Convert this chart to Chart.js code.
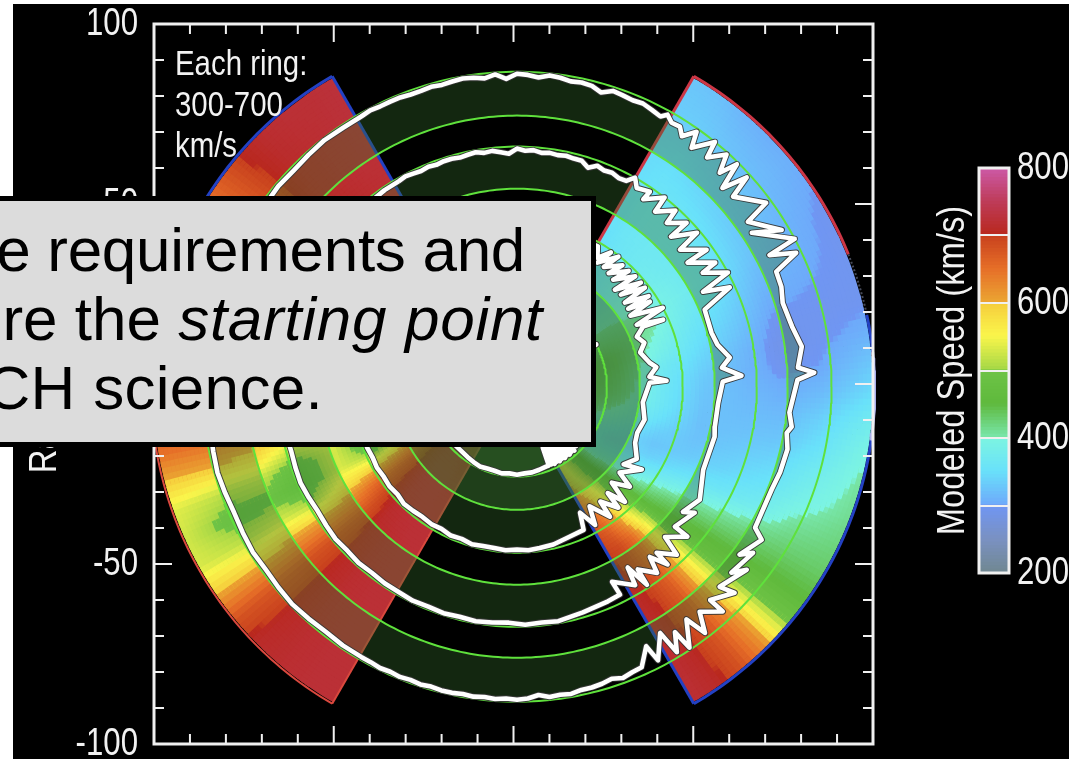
<!DOCTYPE html>
<html><head><meta charset="utf-8">
<style>
html,body{margin:0;padding:0;background:#fff;width:1069px;height:759px;overflow:hidden}
#panel{position:absolute;left:13px;top:4px;right:0;bottom:0;background:#000}
canvas{position:absolute}
.note{position:absolute;left:175px;color:#f2f2f2;font:35px "Liberation Sans",sans-serif;line-height:40px;white-space:nowrap;transform:scaleX(.84);transform-origin:0 0}
#box{position:absolute;left:-10px;top:196px;width:596px;height:241px;background:#dcdcdc;border:5px solid #000;overflow:hidden}
.ln{position:absolute;white-space:nowrap;color:#000;font:62px "Liberation Sans",Arial,sans-serif;line-height:69px}
.ln i{letter-spacing:.7px}
</style>
<script src="https://cdn.jsdelivr.net/npm/chart.js@4/dist/chart.umd.js"></script>
</head><body>
<div id="panel"></div>
<canvas id="map" width="1069" height="759" style="left:0;top:0"></canvas>
<canvas id="bar" width="169" height="480" style="left:900px;top:130px"></canvas>
<div class="note" style="top:43px">Each ring:</div>
<div class="note" style="top:84px">300-700</div>
<div class="note" style="top:125px">km/s</div>
<div id="box">
<div class="ln" style="top:14px;right:66px;letter-spacing:-.3px">e requirements and</div>
<div class="ln" style="top:83px;right:48px">re the <i>starting point</i></div>
<div class="ln" style="top:152px;right:268px;letter-spacing:.3px">CH science.</div>
</div>
<script>
// ---- axis ticks
const axisTicks = [-100,-50,50,100];
const colorbarLabels = [200,400,600,800];
const yAxisTitle = 'Radius (RS)';
const colorbarTitle = 'Modeled Speed (km/s)';

// ---- colour table: speed (km/s) and rgb
const cmapSpeed = [200,250,299,300,350,399,400,450,499,500,550,599,600,650,699,700,750,800];
const cmapRgb = [[113,135,145],[122,145,195],[112,150,243],[110,170,250],[105,225,250],[125,245,225],[120,230,170],[95,185,60],[110,195,70],[165,215,70],[250,245,75],[245,205,60],[235,165,50],[230,110,40],[200,65,30],[185,40,30],[190,60,90],[205,90,170]];

// ---- modelled speed maps (km/s): rows = radius knots, columns = longitude knots
const mapRadius = [20,30,42,53,64,75,86,100];
const rightLon = [-60,-55,-50,-45,-40,-35,-30,-25,-20,-15,-10,-5,0,5,10,15,20,25,30,35,40,45,50,55,60];
const rightSpeed = [
[560,540,500,455,410,380,370,375,390,410,425,435,440,445,445,445,440,430,415,400,380,365,350,340,330],
[620,565,520,470,420,375,350,340,350,370,390,405,415,420,425,430,430,420,410,400,385,370,360,350,340],
[680,640,580,500,450,400,360,335,325,335,350,360,362,365,370,385,395,405,400,395,385,375,365,355,345],
[700,690,650,560,460,430,385,350,330,322,320,322,325,330,340,350,360,370,378,375,370,368,365,360,350],
[710,695,660,580,470,440,400,360,340,330,322,318,315,312,315,325,335,345,355,360,362,365,365,360,350],
[715,700,670,590,480,445,415,375,355,340,325,315,305,295,290,295,305,315,325,330,335,340,345,350,345],
[720,705,675,610,500,450,425,405,385,370,350,335,315,300,295,295,300,305,310,315,320,325,330,335,335],
[720,710,680,620,500,450,430,420,410,405,395,375,345,325,305,295,295,295,295,300,305,305,310,320,325]];
const leftLon = [120,125,130,135,140,145,150,155,160,165,170,175,180,185,190,195,200,205,210,215,220,225,230,235,240];
const leftSpeed = [
[680,650,620,590,550,510,480,450,430,420,410,410,420,440,480,540,600,650,690,710,715,715,715,710,700],
[700,690,680,670,650,630,600,570,540,510,480,450,430,420,420,450,510,590,650,690,710,720,720,720,715],
[710,705,700,690,680,670,650,630,620,610,600,580,550,510,470,440,450,500,600,670,700,715,720,720,720],
[715,710,705,700,690,680,665,650,645,640,635,625,610,590,560,540,530,530,570,630,680,710,715,720,720],
[720,715,710,705,695,680,665,655,655,655,655,650,640,620,590,530,470,460,510,610,680,705,715,720,720],
[720,720,715,710,700,680,660,650,650,655,660,660,660,650,630,590,520,490,530,610,680,705,715,720,720],
[725,720,715,710,695,670,650,640,640,650,655,660,665,665,650,600,515,480,515,600,675,705,715,720,720],
[725,720,720,715,700,670,640,630,630,640,650,660,665,665,655,600,535,525,530,600,680,710,715,720,720]];

// ---- white speed traces: longitude (deg) and speed (km/s) in plot order for each ring
const ringALon = [120,118,116,114,112,110,108,106,104,102,100,98,96,94,92,90,88,86,84,82,80,78,76,74,72,70,68,66,64,62,
61,59.6,57.9,56.6,54.8,53.8,51,50.3,47.9,46.5,45.3,44,42.3,41.3,36.4,35.5,30.6,33.2,28,27.5,25.6,23.9,20.7,17.5,12.3,8,3.9,2.7,1.4,-5.4,-8.3,-9.7,-13,-18,-22,-30.6,-32,-37,-35.1,-40.9,-38.5,-44.6,-43.4,-47.8,-47.5,-50.9,-52.6,-53.9,-56.5,-57.2,-58.9,-59.8,-62.7,-63.5,
-66,-68,-70,-72,-74,-76,-78,-80,-82,-84,-86,-88,-90,-92,-94,-96,-98,-100,-102,-104,-106,-108,-110,-112,-114,-116,-118,-120,
-124,-128,-132,-136,-140,-144,-148,-152,-156,-160,-164,-168,-172,-176,-180,-184,-188,-192,-196,-200,-204,-208,-212,-216,-220,-224,-228,-232,-236,-240];
const ringASpeed = [327,318,327,327,327,336,336,327,336,327,318,327,345,318,363,318,327,345,318,327,345,336,345,381,336,345,354,345,363,381,
336,381,372,435,327,471,300,453,318,480,318,561,336,543,345,579,363,606,300,570,345,579,588,624,597,543,597,453,606,669,633,669,633,642,660,642,534,624,534,579,489,570,435,543,390,525,345,543,318,507,345,570,363,525,
372,363,345,372,354,345,345,327,336,327,354,327,318,327,318,327,318,327,318,318,327,318,327,318,327,318,327,327,
327,336,327,318,327,336,327,336,345,336,327,336,345,336,345,336,345,354,345,336,345,336,327,336,327,336,327,318,327,327];

const ringBLon = [120,118,116,114,112,110,108,106,104,102,100,98,96,94,92,90,88,86,84,82,80,78,76,74,72,70,68,66,64,62,
60.5,58.9,55.7,56,52,51.7,48,47.5,44,44.2,40.5,40,35.8,36,32,31.5,28.4,27,25,22.3,15.5,11.8,7.8,5.3,2.8,1.4,-4.6,-11.4,-14.2,-24,-31.7,-37,-35.3,-41.5,-41.3,-45.4,-46.4,-49.9,-49.7,-52,-53,-56.5,-56.7,-58.5,-59.2,-64,-63.6,-67,-73.7,-80,
-84,-88,-92,-96,-100,-104,-108,-112,-116,-120,
-124,-128,-132,-136,-140,-144,-148,-152,-156,-160,-164,-168,-172,-176,-180,-184,-188,-192,-196,-200,-204,-208,-212,-216,-220,-224,-228,-232,-236,-240];
const ringBSpeed = [327,318,327,336,327,336,327,327,336,327,318,336,327,345,363,318,336,327,345,336,345,336,345,345,390,345,363,354,372,363,
300,372,336,426,300,453,327,462,336,525,327,543,354,561,354,498,300,579,345,633,642,615,525,606,435,606,642,642,624,624,525,588,498,561,417,561,372,507,363,516,363,489,327,552,381,507,372,363,345,318,
327,318,336,327,318,327,318,327,318,327,
327,336,327,336,327,336,345,336,327,336,345,336,345,336,345,354,345,336,345,336,345,354,345,336,327,336,327,336,327,327];

const ringCLon = [120,100,80,62,
60,58,55,57,52,54,49,51,46,48,43,44.7,40,41.5,37.7,37.9,34.5,35,32.6,32,28.4,27.3,24.6,25.5,22.6,19,15.5,10.2,8,4.3,2.3,1.7,-7,-14.5,-21,-25.4,-31,-36,-33.5,-39.9,-41.5,-45.3,-46.8,-49.5,-50,-54,-54.4,-58.7,-60.5,-63.4,-65,-70.5,-77,-82,
-86,-90,-94,-98,-102,-106,-110,-114,-118,-122,-126,-130,-134,-138,-142,-146,-150,-154,-158,-162,-166,-170,-180,-190,-200,-210,-220,-230,-240];
const ringCSpeed = [330,325,335,340,
336,426,318,462,309,462,345,480,345,498,336,552,336,543,336,561,354,570,372,588,300,579,345,534,624,579,642,579,525,597,444,597,651,606,633,615,534,606,444,588,435,579,372,534,372,516,354,534,363,525,372,363,336,327,
318,327,318,327,327,318,336,327,345,336,345,336,327,345,336,345,336,345,336,345,336,345,336,345,336,345,336,330];

const ringDLon = [120,90,62,60,56,54,50,47,44,41,38,35,32,29.5,28,26,23,19,10,2.5,1,-10,-20,-30,-36,-40,-43,-45,-47,-48,-49,-50,-51,-52,-53,-54,-55,-56,-57,-58,-59,-60,-61,-62,-63,-64,-65,-66,-67,-68,-70,-75,-80,-85,-90,-95,-100,-105,-110,-115,-120,-125,-135,-145,-155,-165,-175,-185,-195,-205,-215,-225,-235,-240];
const ringDSpeed = [330,325,330,318,345,480,345,516,345,525,336,534,345,543,300,552,570,624,624,462,606,642,642,570,570,390,606,354,606,336,606,345,606,336,606,345,606,336,606,345,606,336,588,345,570,336,552,345,516,345,345,336,327,327,318,327,318,327,327,318,327,336,345,336,345,336,345,336,345,336,345,336,345,330];

// ---- ring geometry, in axis units
const ringOuter = [87.5,66.7,46.1,25];
const ringInner = [75.3,55,34.2,13.3];

// centres of the drawn rings and wedges in axis units
const ringCentre = {x:0.97,y:-0.75}, wedgeCentre = {x:-0.14,y:-1.67};
const ringScale = 12.35; // axis units per 400 km/s

const deg = Math.PI/180;
const pol = (c,r,a)=>({x:c.x+r*Math.cos(a*deg),y:c.y+r*Math.sin(a*deg)});
function colorOf(v){
  v=Math.max(200,Math.min(800,v));
  let i=0; while(i<cmapSpeed.length-2&&cmapSpeed[i+1]<v)i++;
  const t=(v-cmapSpeed[i])/(cmapSpeed[i+1]-cmapSpeed[i]),a=cmapRgb[i],b=cmapRgb[i+1];
  return `rgb(${a.map((p,k)=>Math.round(p+(b[k]-p)*t)).join(',')})`;
}
function idx(arr,v){let i=0;while(i<arr.length-2&&arr[i+1]<v)i++;return [i,Math.max(0,Math.min(1,(v-arr[i])/(arr[i+1]-arr[i])))];}
function sample(lons,matrix,r,a){
  const [i,u]=idx(mapRadius,r),[j,w]=idx(lons,a);
  return (matrix[i][j]*(1-w)+matrix[i][j+1]*w)*(1-u)+(matrix[i+1][j]*(1-w)+matrix[i+1][j+1]*w)*u;
}
const line=(data,color,width,extra)=>Object.assign({type:'scatter',showLine:true,data,borderColor:color,borderWidth:width,pointRadius:0,fill:false,tension:0,clip:false,borderJoinStyle:'round'},extra||{});

const layers=[];
// wedge colour strips
function addWedge(lons,matrix){
  const a0=lons[0],a1=lons[lons.length-1];
  for(let r=13;r<100.1;r+=1.2){
    const inset=2.7/(r*3.6)/deg;
    const pts=[],vals=[];
    for(let a=a0;a<=a1+1e-6;a+=1){
      const b=Math.max(a0+inset,Math.min(a1-inset,a));
      pts.push(pol(wedgeCentre,r,b));vals.push(sample(lons,matrix,r,b));
    }
    layers.push(line(pts,colorOf(vals[0]),5.2,{borderCapStyle:'square',segment:{borderColor:c=>colorOf((vals[c.p0DataIndex]+vals[c.p1DataIndex])/2)}}));
  }
}
addWedge(rightLon,rightSpeed);
addWedge(leftLon,leftSpeed);
// wedge edges
function arc(c,r,a0,a1){const p=[];const s=a1>a0?1:-1;for(let a=a0;s*(a-a1)<=0;a+=s)p.push(pol(c,r,a));return p;}
const edgeR=100.6;
const RED='rgb(205,55,70)',BLUE='rgb(35,65,195)',SOFT='rgb(218,72,62)';
layers.push(line([pol(wedgeCentre,13,60),pol(wedgeCentre,edgeR,60)],RED,3));
layers.push(line(arc(wedgeCentre,edgeR,60,22),RED,3));
layers.push(line(arc(wedgeCentre,edgeR,22,12),'rgb(70,75,90)',2,{borderDash:[2,2]}));
layers.push(line(arc(wedgeCentre,edgeR,12,6),BLUE,3));
layers.push(line(arc(wedgeCentre,edgeR,6,-8),'rgb(170,175,235)',3));
layers.push(line(arc(wedgeCentre,edgeR,-8,-60),BLUE,3));
layers.push(line([pol(wedgeCentre,13,-60),pol(wedgeCentre,edgeR,-60)],BLUE,3));
layers.push(line([pol(wedgeCentre,13,120),pol(wedgeCentre,edgeR,120)],BLUE,3));
layers.push(line(arc(wedgeCentre,edgeR,120,160),BLUE,3));
layers.push(line(arc(wedgeCentre,edgeR,160,240),SOFT,2));
layers.push(line([pol(wedgeCentre,edgeR,240),pol(wedgeCentre,13,240)],SOFT,2));

const rings=[[ringALon,ringASpeed],[ringBLon,ringBSpeed],[ringCLon,ringCSpeed],[ringDLon,ringDSpeed]];
const tracePts=rings.map(([lon,sp],k)=>lon.map((a,i)=>pol(ringCentre,ringOuter[k]-(sp[i]-300)/400*ringScale,a)));
// translucent band between trace and the ring's inner circle
tracePts.forEach((pts,k)=>{
  const closing=arc(ringCentre,ringInner[k],-240,120);
  layers.push(line(pts.concat(closing),'rgba(0,0,0,0)',0,{fill:'shape',backgroundColor:'rgba(54,108,43,0.36)'}));
});
// green ring circles
ringOuter.concat(ringInner.slice(0,3)).forEach(r=>layers.push(line(arc(ringCentre,r,0,360),'rgb(95,225,60)',2)));
// traces
tracePts.forEach(p=>layers.push(line(p,'rgba(55,55,55,0.95)',6.4)));
tracePts.forEach(p=>layers.push(line(p,'#ffffff',4.6)));

function condense(canvas){
  const ctx=canvas.getContext('2d'),orig=ctx.fillText.bind(ctx);
  ctx.fillText=function(t,x,y){const f=String(t).length>4?0.84:0.8;ctx.save();ctx.translate(x,y);ctx.scale(f,1);orig(t,0,0);ctx.restore();};
}
const SANS='"Liberation Sans",sans-serif';
const framePlugin={id:'frame',afterDraw(chart){
  const {ctx,chartArea:a,scales:{x,y}}=chart;
  ctx.save();ctx.strokeStyle='#f0f0f0';ctx.lineWidth=3;
  ctx.strokeRect(a.left,a.top,a.right-a.left,a.bottom-a.top);
  ctx.lineWidth=2;ctx.beginPath();
  for(let v=-90;v<100;v+=10){
    const L=v%50===0?18:10,px=x.getPixelForValue(v),py=y.getPixelForValue(v);
    ctx.moveTo(px,a.top);ctx.lineTo(px,a.top+L);
    ctx.moveTo(px,a.bottom);ctx.lineTo(px,a.bottom-L);
    ctx.moveTo(a.left,py);ctx.lineTo(a.left+L,py);
    ctx.moveTo(a.right,py);ctx.lineTo(a.right-L,py);
  }
  ctx.stroke();ctx.restore();
}};
const flat=s=>{s.paddingTop=0;s.paddingBottom=0;s.paddingLeft=0;s.paddingRight=0;};
condense(document.getElementById('map'));
new Chart(document.getElementById('map'),{
  type:'scatter',
  data:{datasets:layers.reverse()},
  plugins:[framePlugin],
  options:{responsive:false,animation:false,events:[],
    layout:{padding:{left:0,right:196,top:24,bottom:15}},
    plugins:{legend:{display:false},tooltip:{enabled:false}},
    scales:{
      x:{type:'linear',min:-100,max:100,grid:{display:false},border:{display:false},ticks:{display:false},afterFit(s){s.height=0;flat(s);}},
      y:{type:'linear',min:-100,max:100,grid:{display:false,drawTicks:false},border:{display:false},
        afterFit(s){s.width=154;flat(s);},
        afterBuildTicks(s){s.ticks=axisTicks.map(v=>({value:v}));},
        title:{display:true,text:yAxisTitle,color:'#f2f2f2',font:{family:SANS,size:39},padding:{top:22,bottom:0}},
        ticks:{color:'#f2f2f2',font:{family:SANS,size:39},padding:16,autoSkip:false,maxRotation:0}}
    }}
});

// ---- colour bar
const barSteps=[];for(let v=200;v<800;v+=5)barSteps.push(v);
const barPlugin={id:'barframe',afterDraw(chart){
  const {ctx,chartArea:a}=chart;ctx.save();ctx.strokeStyle='#f0f0f0';ctx.lineWidth=3;
  ctx.strokeRect(a.left,a.top,a.right-a.left,a.bottom-a.top);ctx.restore();
}};
condense(document.getElementById('bar'));
new Chart(document.getElementById('bar'),{
  type:'bar',
  data:{labels:['speed'],datasets:barSteps.map(v=>({data:[[v,v+6]],backgroundColor:colorOf(v+2.5),barPercentage:1,categoryPercentage:1,borderWidth:0}))},
  plugins:[barPlugin],
  options:{responsive:false,animation:false,events:[],
    layout:{padding:{left:0,right:0,top:38,bottom:37}},
    plugins:{legend:{display:false},tooltip:{enabled:false}},
    scales:{
      x:{display:false,stacked:true},
      y:{position:'right',min:200,max:800,afterFit(s){s.width=60;flat(s);},
        afterBuildTicks(s){const t=[];for(let v=200;v<=800;v+=100)t.push({value:v});s.ticks=t;},
        grid:{display:true,color:'#f0f0f0',lineWidth:2,drawTicks:false,z:1},border:{display:false},
        ticks:{color:'#f2f2f2',font:{family:SANS,size:39},padding:8,autoSkip:false,maxRotation:0,callback:v=>colorbarLabels.includes(v)?String(v):''}},
      t:{position:'left',min:200,max:800,afterFit(s){s.width=79;flat(s);},grid:{display:false},border:{display:false},
        ticks:{display:false},title:{display:true,text:colorbarTitle,color:'#f2f2f2',font:{family:SANS,size:39},padding:{top:30,bottom:0}}}
    }}
});
</script>
</body></html>
